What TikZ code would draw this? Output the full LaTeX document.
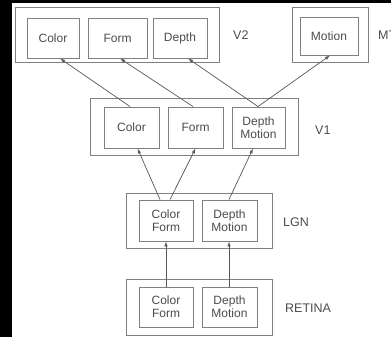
\documentclass[tikz,border=0pt]{standalone}
\usepackage{fontspec}
\setmainfont{Liberation Sans}
\usetikzlibrary{arrows.meta,calc}
\definecolor{boxgray}{gray}{0.5}
\definecolor{txtgray}{gray}{0.3}
\definecolor{lingray}{gray}{0.35}
\tikzset{
  outerbox/.style={draw=boxgray, line width=1pt, minimum width=#1, inner sep=0pt},
  innerbox/.style={draw=boxgray, line width=0.9pt, inner sep=0pt, align=center,
    text=txtgray, font=\fontsize{12}{13}\selectfont},
  lbl/.style={anchor=west, inner sep=0pt, text=txtgray, font=\fontsize{12.5}{13}\selectfont},
  conn/.style={draw=lingray, line width=0.7pt, -{Latex[length=5pt,width=3.5pt]}}
}
\begin{document}
\begin{tikzpicture}[x=1pt,y=-1pt]
\useasboundingbox (0,0) rectangle (391,337);
\fill[white] (0,0) rectangle (391,337);
\fill[black] (0,0) rectangle (12,337);
\fill[black] (0,0) rectangle (391,3);
% V2
\node[outerbox=204pt, minimum height=55pt] (v2) at (117,35.5) {};
\node[innerbox, minimum width=52pt, minimum height=40pt] (v2c) at (53,38) {Color};
\node[innerbox, minimum width=59pt, minimum height=40pt] (v2f) at (117.5,38) {Form};
\node[innerbox, minimum width=54pt, minimum height=40pt] (v2d) at (180,38) {Depth};
\node[lbl] (v2l) at (233,35) {V2};
% MT
\node[outerbox=76pt, minimum height=55pt] (mt) at (330,35.5) {};
\node[innerbox, minimum width=58pt, minimum height=38pt] (mtm) at (329,36) {Motion};
\node[lbl] (mtl) at (378,35) {MT};
% V1
\node[outerbox=208pt, minimum height=57pt] (v1) at (194,126.5) {};
\node[innerbox, minimum width=55pt, minimum height=41pt] (v1c) at (131.5,127.5) {Color};
\node[innerbox, minimum width=55pt, minimum height=41pt] (v1f) at (195.5,127.5) {Form};
\node[innerbox, minimum width=53pt, minimum height=41pt] (v1d) at (258.5,127.5) {Depth\\Motion};
\node[lbl] (v1l) at (315,130) {V1};
% LGN
\node[outerbox=146pt, minimum height=55pt] (lgn) at (199,220.5) {};
\node[innerbox, minimum width=54pt, minimum height=41pt] (lgncf) at (166,220.5) {Color\\Form};
\node[innerbox, minimum width=55pt, minimum height=41pt] (lgndm) at (229.5,220.5) {Depth\\Motion};
\node[lbl] (lgnl) at (283,222) {LGN};
% RETINA
\node[outerbox=146pt, minimum height=56pt] (ret) at (199,307) {};
\node[innerbox, minimum width=54pt, minimum height=40pt] (retcf) at (166,307) {Color\\Form};
\node[innerbox, minimum width=55pt, minimum height=40pt] (retdm) at (229.5,307) {Depth\\Motion};
\node[lbl] (retl) at (285,308) {RETINA};
% connectors V1 -> V2 / MT
\draw[conn] ([xshift=-1.5pt]v1c.north) -- ([xshift=7pt]v2c.south);
\draw[conn] ([xshift=-2.5pt]v1f.north) -- ([xshift=2.5pt]v2f.south);
\draw[conn] ([xshift=-0.5pt]v1d.north) -- ([xshift=8pt]v2d.south);
\draw[conn] ([xshift=-0.5pt]v1d.north) -- ([xshift=1pt]mtm.south);
% LGN -> V1
\draw[conn] ([xshift=-6pt]lgncf.north) -- ([xshift=6pt]v1c.south);
\draw[conn] ([xshift=4pt]lgncf.north) -- ([xshift=0pt]v1f.south);
\draw[conn] ([xshift=-0.5pt]lgndm.north) -- ([xshift=-5.5pt]v1d.south);
% RETINA -> LGN
\draw[conn] (retcf.north) -- (lgncf.south);
\draw[conn] ([xshift=-0.5pt]retdm.north) -- ([xshift=-0.5pt]lgndm.south);
\end{tikzpicture}
\end{document}
